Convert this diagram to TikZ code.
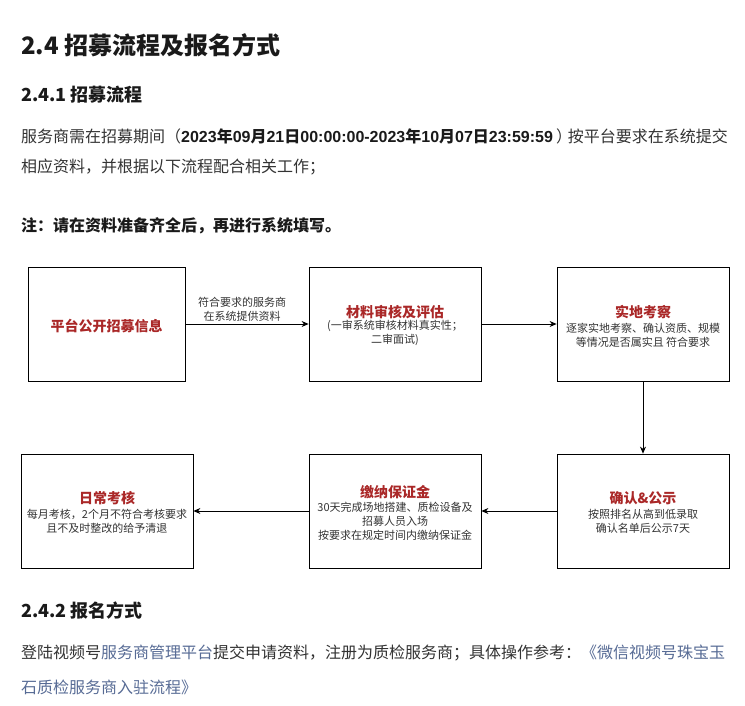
\documentclass[tikz,border=0pt]{standalone}
\usepackage{fontspec}
\setmainfont{Noto Sans CJK SC}
\newfontfamily\latfont{Liberation Sans}
\newcommand\dg[1]{{\latfont\bfseries #1}}
\usetikzlibrary{arrows.meta}
\definecolor{txt}{HTML}{333333}
\definecolor{hd}{HTML}{1A1A1A}
\definecolor{boxred}{RGB}{170,40,40}
\definecolor{linkc}{HTML}{576B95}
\begin{document}
\begin{tikzpicture}[x=1pt,y=-1pt,
  box/.style={draw=black, line width=0.8pt, minimum height=114pt, inner sep=0pt},
  arr/.style={-{Stealth[length=7pt,width=6pt]}, line width=0.8pt, black},
  h1/.style={anchor=west, inner sep=0pt, font=\fontsize{24}{28}\selectfont\bfseries, text=hd},
  h2/.style={anchor=west, inner sep=0pt, font=\fontsize{18}{22}\selectfont\bfseries, text=hd},
  para/.style={anchor=west, inner sep=0pt, font=\fontsize{16}{20}\selectfont, text=txt},
  ttl/.style={inner sep=0pt, font=\fontsize{14}{16}\selectfont\bfseries, text=boxred},
  sub/.style={inner sep=0pt, align=center, font=\fontsize{11}{14}\selectfont, text=txt},
]
\useasboundingbox[fill=white] (0,0) rectangle (745,705);

% headings and paragraphs
\node[h1] (title) at (21,45) {2.4 招募流程及报名方式};
\node[h2] (sec1) at (21,95) {2.4.1 招募流程};
\node[para] (p1a) at (21,136) {服务商需在招募期间（};
\node[para, font=\fontsize{16}{20}\selectfont\bfseries, text=hd] (p1b) at (181,136) {\dg{2023}年\dg{09}月\dg{21}日\dg{00:00:00-2023}年\dg{10}月\dg{07}日\dg{23:59:59}};
\node[para] (p1p) at (556,136) {）};
\node[para, anchor=east] (p1c) at (728,136) {按平台要求在系统提交};
\node[para] (p2) at (21,167) {相应资料，并根据以下流程配合相关工作；};
\node[para, font=\fontsize{16}{20}\selectfont\bfseries, text=hd] (note) at (21,226) {注：请在资料准备齐全后，再进行系统填写。};

\node[h2] (sec2) at (21,611) {2.4.2 报名方式};
\node[para] (q1) at (21,653) {登陆视频号\textcolor{linkc}{服务商管理平台}提交申请资料，注册为质检服务商；具体操作参考：\textcolor{linkc}{《微信视频号珠宝玉}};
\node[para, text=linkc] (q2) at (21,687) {石质检服务商入驻流程》};

% boxes
\node[box, minimum width=157pt] (b1) at (106.5,324) {};
\node[box, minimum width=172pt] (b2) at (395,324) {};
\node[box, minimum width=172pt] (b3) at (643,324) {};
\node[box, minimum width=172pt] (b4) at (643,511) {};
\node[box, minimum width=172pt] (b5) at (395,511) {};
\node[box, minimum width=172pt] (b6) at (107,511) {};

% box texts
\node[ttl] (t1) at (106.5,326) {平台公开招募信息};

\node[ttl] (t2) at (395,312) {材料审核及评估};
\node[sub] (s2) at (395,333) {(一审系统审核材料真实性；\\二审面试)};

\node[ttl] (t3) at (643,312) {实地考察};
\node[sub] (s3) at (643,335) {逐家实地考察、确认资质、规模\\等情况是否属实且 符合要求};

\node[ttl] (t4) at (643,498) {确认\&公示};
\node[sub] (s4) at (643,521) {按照排名从高到低录取\\确认名单后公示7天};

\node[ttl] (t5) at (395,492) {缴纳保证金};
\node[sub] (s5) at (395,521) {30天完成场地搭建、质检设备及\\招募人员入场\\按要求在规定时间内缴纳保证金};

\node[ttl] (t6) at (107,498) {日常考核};
\node[sub] (s6) at (107,521) {每月考核，2个月不符合考核要求\\且不及时整改的给予清退};

% connectors
\draw[arr] (b1.east) -- (b2.west);
\node[sub] (l1) at (242,309.5) {符合要求的服务商\\在系统提供资料};
\draw[arr] (b2.east) -- (b3.west);
\draw[arr] (b3.south) -- (b4.north);
\draw[arr] (b4.west) -- (b5.east);
\draw[arr] (b5.west) -- (b6.east);
\end{tikzpicture}
\end{document}
